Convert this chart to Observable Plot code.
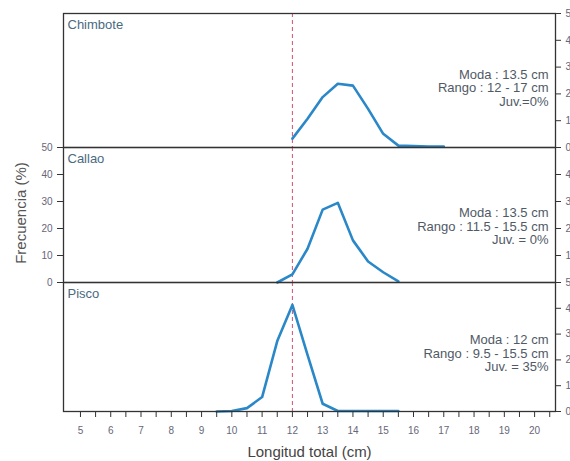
<!DOCTYPE html>
<html>
<head>
<meta charset="utf-8">
<script src="https://cdn.jsdelivr.net/npm/d3@7"></script>
<script src="https://cdn.jsdelivr.net/npm/@observablehq/plot@0.6"></script>
<style>
  body { margin: 0; background: #fff; font-family: "Liberation Sans", Arial, sans-serif; }
  #chart svg { display: block; overflow: visible; }
</style>
</head>
<body>
<div id="chart"></div>
<script>
// ---- data ----
const sites = ["Chimbote", "Callao", "Pisco"];

const chimboteLen  = [12, 12.5, 13, 13.5, 14, 14.5, 15, 15.5, 16, 16.5, 17];
const chimboteFreq = [3.3, 10.7, 18.8, 23.8, 23.1, 14.4, 5.1, 0.7, 0.5, 0.4, 0.4];

const callaoLen  = [11.5, 12, 12.5, 13, 13.5, 14, 14.5, 15, 15.5];
const callaoFreq = [0, 3, 12.5, 27, 29.5, 15.6, 7.8, 3.8, 0.4];

const piscoLen  = [9.5, 10, 10.5, 11, 11.5, 12, 12.5, 13, 13.5, 14, 14.5, 15, 15.5];
const piscoFreq = [0, 0.2, 1.3, 5.6, 27.3, 41.3, 21.9, 3, 0.2, 0.2, 0.2, 0.2, 0.2];

const chimboteNote = ["Moda : 13.5 cm", "Rango : 12 - 17 cm", "Juv.=0%"];
const callaoNote   = ["Moda : 13.5 cm", "Rango : 11.5 - 15.5 cm", "Juv. = 0%"];
const piscoNote    = ["Moda : 12 cm", "Rango : 9.5 - 15.5 cm", "Juv. = 35%"];

const yTicks = [0, 10, 20, 30, 40, 50];
const xMajorTicks = [5, 6, 7, 8, 9, 10, 11, 12, 13, 14, 15, 16, 17, 18, 19, 20];
const xAllTicks = [5, 5.5, 6, 6.5, 7, 7.5, 8, 8.5, 9, 9.5, 10, 10.5, 11, 11.5, 12, 12.5,
                   13, 13.5, 14, 14.5, 15, 15.5, 16, 16.5, 17, 17.5, 18, 18.5, 19, 19.5, 20, 20.5];
const modeLine = [12];
const yTitle = "Frecuencia (%)";
const xTitle = "Longitud total (cm)";

// ---- drawing ----
const FONT = "Liberation Sans, Arial, sans-serif";

function panel({name, lens, freqs, note, height, marginTop, marginBottom, noteDy, leftAxis, bottomAxis, rightHide}) {
  const marks = [
    Plot.ruleX(modeLine, {stroke: "#d4506e", strokeDasharray: "4,3", strokeWidth: 1}),
    Plot.line(freqs, {x: lens, y: freqs, stroke: "#2a88c8", strokeWidth: 2.6, strokeLinejoin: "round", curve: "linear"}),
    Plot.frame({stroke: "#333", strokeWidth: 1.3}),
    Plot.axisY({anchor: "right", ticks: yTicks, tickSize: 5, tickPadding: 5, fontSize: 10,
                tickFormat: d => rightHide.includes(d) ? "" : String(d),
                stroke: "#333", fill: "#667", label: null}),
    Plot.text([name], {frameAnchor: "top-left", dx: 4, dy: 6, lineAnchor: "top",
                       fontSize: 13, fill: "#4a6a80"}),
    Plot.text([note.join("\n")], {frameAnchor: "top-right", dx: -7, dy: noteDy, lineAnchor: "top",
                       textAnchor: "end", fontSize: 13, lineHeight: 1.05, fill: "#505a66"})
  ];
  if (leftAxis) {
    marks.push(Plot.axisY({anchor: "left", ticks: yTicks, tickSize: 6, tickPadding: 5, fontSize: 10,
                           stroke: "#333", fill: "#667", label: null}));
    marks.push(Plot.text([yTitle], {frameAnchor: "left", rotate: -90, textAnchor: "middle", dx: -42, dy: -2,
                                    fontSize: 15, fill: "#555"}));
  }
  if (bottomAxis) {
    marks.push(Plot.axisX({ticks: xAllTicks, tickSize: 6, tickPadding: 9, fontSize: 10,
                           tickFormat: d => xMajorTicks.includes(d) ? String(d) : "",
                           stroke: "#333", fill: "#667", label: null}));
    marks.push(Plot.text([xTitle], {frameAnchor: "bottom", dy: 45, lineAnchor: "bottom", fontSize: 15, fill: "#444"}));
  }
  return Plot.plot({
    width: 570, height, marginLeft: 63, marginRight: 15, marginTop, marginBottom,
    style: {fontFamily: FONT, overflow: "visible", background: "transparent"},
    x: {domain: [4.44, 20.69], axis: bottomAxis ? undefined : null},
    y: {domain: [0, 50]},
    marks
  });
}

const chart = document.getElementById("chart");
chart.append(panel({name: sites[0], lens: chimboteLen, freqs: chimboteFreq, note: chimboteNote,
  height: 147, marginTop: 13, marginBottom: 0, noteDy: 55.5, leftAxis: false, bottomAxis: false, rightHide: []}));
chart.append(panel({name: sites[1], lens: callaoLen, freqs: callaoFreq, note: callaoNote,
  height: 135, marginTop: 0, marginBottom: 0, noteDy: 60, leftAxis: true, bottomAxis: false, rightHide: [0, 50]}));
chart.append(panel({name: sites[2], lens: piscoLen, freqs: piscoFreq, note: piscoNote,
  height: 179, marginTop: 0, marginBottom: 50, noteDy: 52, leftAxis: false, bottomAxis: true, rightHide: []}));
</script>
</body>
</html>
